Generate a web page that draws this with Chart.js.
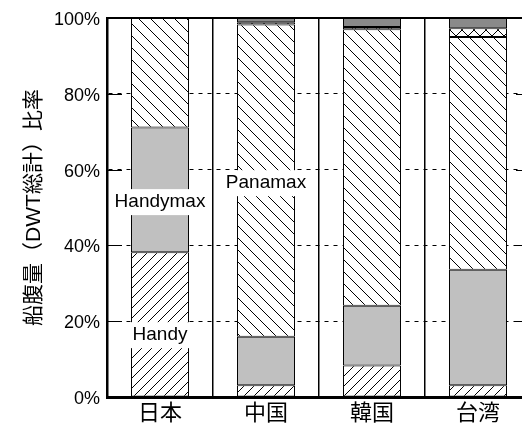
<!DOCTYPE html>
<html>
<head>
<meta charset="utf-8">
<script src="https://cdn.jsdelivr.net/npm/chart.js@4/dist/chart.umd.min.js"></script>
<style>
  html, body { margin: 0; padding: 0; background: #fff; overflow: hidden; }
  #wrap { width: 540px; height: 428px; position: relative; }
</style>
</head>
<body>
<div id="wrap"><canvas id="c"></canvas></div>
<script>
// Share of fleet deadweight by ship size class (percent of total DWT)
const categories = ['日本', '中国', '韓国', '台湾'];
const handy     = [38.2, 3.1, 8.3, 3.1];
const handymax  = [32.9, 12.8, 15.8, 30.5];
const panamax   = [28.9, 82.4, 72.9, 61.4];
const capesize  = [0, 0.6, 0.6, 2.3];
const others    = [0, 1.1, 2.4, 2.7];
const yTickValues = [0, 20, 40, 60, 80, 100];
const yTitle = '船腹量（DWT総計）比率';

// In-bar class names: category index and the value at the text baseline
const segmentLabels = [
  { text: 'Handy',    index: 0, value: 15.0 },
  { text: 'Handymax', index: 0, value: 50.1 },
  { text: 'Panamax',  index: 1, value: 55.1 }
];

const FONT = "'Liberation Sans', 'Noto Sans CJK JP', sans-serif";

function makePattern(size, draw) {
  const c = document.createElement('canvas');
  c.width = size; c.height = size;
  const g = c.getContext('2d');
  g.fillStyle = '#fff';
  g.fillRect(0, 0, size, size);
  g.strokeStyle = '#000';
  g.lineWidth = 1;
  draw(g, size);
  return g.createPattern(c, 'repeat');
}
function seg(g, x1, y1, x2, y2) { g.beginPath(); g.moveTo(x1, y1); g.lineTo(x2, y2); g.stroke(); }

const ctxMain = document.getElementById('c').getContext('2d');
const slashFill = makePattern(10, (g, s) => {
  seg(g, -1, s + 1, s + 1, -1);
  seg(g, -1, 1, 1, -1);
  seg(g, s - 1, s + 1, s + 1, s - 1);
});
const backslashFill = makePattern(12, (g, s) => {
  seg(g, -1, -1, s + 1, s + 1);
  seg(g, s - 1, -1, s + 1, 1);
  seg(g, -1, s - 1, 1, s + 1);
});
const crossFill = makePattern(12, (g, s) => {
  seg(g, -1, -1, s + 1, s + 1);
  seg(g, -1, s + 1, s + 1, -1);
});

const frame = {
  id: 'frame',
  beforeDatasetsDraw(chart) {
    const { ctx, chartArea: a, scales: { y } } = chart;
    ctx.save();
    ctx.strokeStyle = '#000';
    ctx.lineWidth = 1;
    yTickValues.forEach(v => {
      if (v === 0 || v === 100) return;
      const py = Math.round(y.getPixelForValue(v)) + 0.5;
      seg(ctx, a.left, py, a.left + 15, py);
      seg(ctx, a.right - 15, py, a.right, py);
    });
    ctx.restore();
  },
  afterDatasetsDraw(chart) {
    const { ctx, chartArea: a, scales: { x, y } } = chart;
    ctx.save();
    ctx.strokeStyle = '#000';
    ctx.lineWidth = 2;
    seg(ctx, a.left, a.top, a.right, a.top);

    ctx.font = '19px ' + FONT;
    ctx.textAlign = 'center';
    ctx.textBaseline = 'alphabetic';
    segmentLabels.forEach(l => {
      const cx = x.getPixelForValue(l.index);
      const by = y.getPixelForValue(l.value);
      const w = ctx.measureText(l.text).width;
      ctx.fillStyle = '#fff';
      ctx.fillRect(cx - w / 2 - 3, by - 18, w + 6, 26);
      ctx.fillStyle = '#000';
      ctx.fillText(l.text, cx, by);
    });
    ctx.restore();
  }
};

const barCommon = {
  borderColor: '#000',
  borderWidth: 1,
  borderSkipped: false,
  barPercentage: 0.547,
  categoryPercentage: 1.0
};

new Chart(ctxMain, {
  type: 'bar',
  data: {
    labels: categories,
    datasets: [
      { label: 'Handy',    data: handy,    backgroundColor: slashFill,     ...barCommon },
      { label: 'Handymax', data: handymax, backgroundColor: '#c0c0c0',     ...barCommon },
      { label: 'Panamax',  data: panamax,  backgroundColor: backslashFill, ...barCommon },
      { label: 'Capesize', data: capesize, backgroundColor: crossFill,     ...barCommon },
      { label: 'その他',    data: others,   backgroundColor: '#8a8a8a',     ...barCommon }
    ]
  },
  options: {
    responsive: true,
    maintainAspectRatio: false,
    animation: false,
    devicePixelRatio: 1,
    events: [],
    layout: { padding: { top: 18, right: 9, bottom: 0, left: 0 } },
    plugins: { legend: { display: false }, tooltip: { enabled: false } },
    scales: {
      x: {
        stacked: true,
        grid: { offset: true, color: '#000', lineWidth: 1.5, drawTicks: false },
        border: { display: true, color: '#000', width: 3 },
        ticks: { color: '#000', padding: 4, font: { family: FONT, size: 22 } },
        afterFit(s) { s.height = 31; }
      },
      y: {
        stacked: true,
        min: 0,
        max: 100,
        afterBuildTicks(s) { s.ticks = yTickValues.map(v => ({ value: v })); },
        grid: {
          drawTicks: false,
          lineWidth: 1,
          color: c => (c.tick && (c.tick.value === 0 || c.tick.value === 100)) ? 'rgba(0,0,0,0)' : '#000'
        },
        border: { display: true, color: '#000', width: 2.5, dash: [4, 5] },
        ticks: {
          color: '#000',
          padding: 7,
          labelOffset: 2,
          font: { family: FONT, size: 18 },
          callback: v => v + '%'
        },
        title: {
          display: true,
          text: yTitle,
          color: '#000',
          font: { family: FONT, size: 21 },
          padding: { top: 22, bottom: 0 }
        },
        afterFit(s) { s.width = 107; }
      }
    }
  },
  plugins: [frame]
});
</script>
</body>
</html>
